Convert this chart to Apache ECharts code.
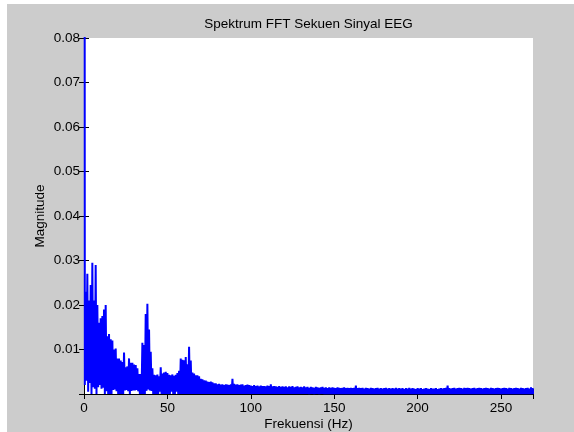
<!DOCTYPE html>
<html>
<head>
<meta charset="utf-8">
<title>Spektrum FFT Sekuen Sinyal EEG</title>
<script src="https://cdn.jsdelivr.net/npm/echarts@6/dist/echarts.min.js"></script>
<style>
  body { margin: 0; padding: 0; background-color: #fff; }
  #main { position: absolute; left: 7px; top: 4px; width: 567px; height: 428px; }
</style>
</head>
<body>
<div id="main"></div>
<script type="text/javascript">
// magnitude, in units of 0.001
// upperMilli[h] = peak bin at h Hz, lowerMilli[h] = trough bin at h + 0.5 Hz
var upperMilli = [
  500, 23, 27, 21, 24.5, 29.5, 21, 29, 20, 16,
  17, 17.5, 19, 20, 13, 13.5, 12.3, 12, 10, 10.2,
  8, 8, 7.5, 7.2, 9.3, 6, 6.2, 8, 7, 7,
  6.6, 6.5, 5.8, 4.5, 4.5, 11.5, 11, 18, 20.3, 14.5,
  9.5, 5.8, 4.3, 4.2, 4.4, 4, 6, 4.6, 4.8, 5,
  4.7, 4.3, 4.2, 4.4, 4.1, 4.3, 4.7, 5.2, 8, 7.7,
  7.6, 8.3, 6.7, 10.6, 7.5, 4.8, 4.6, 4.2, 4.2, 4,
  3.4, 3.3, 3.1, 3, 2.8, 2.7, 2.8, 2.6, 2.4, 2.4,
  2.2, 2.3, 2.1, 2.2, 2.0, 2.2, 2.1, 2.0, 2.2, 3.4,
  2.3, 2.1, 2.2, 2.0, 2.1, 2.2, 1.9, 2.0, 2.1, 2.0,
  1.9, 1.8, 2.0, 1.8, 1.9, 1.7, 1.9, 1.8, 1.8, 1.7,
  1.9, 1.8, 2.2, 1.7, 1.8, 1.7, 1.6, 1.8, 1.6, 1.7,
  1.6, 1.7, 1.5, 1.7, 1.6, 1.8, 1.5, 1.6, 1.7, 1.5,
  1.6, 1.5, 1.7, 1.5, 1.6, 1.4, 1.6, 1.5, 1.4, 1.6,
  1.5, 1.4, 1.5, 1.6, 1.4, 1.5, 1.3, 1.5, 1.4, 1.5,
  1.4, 1.3, 1.5, 1.4, 1.3, 1.4, 1.5, 1.3, 1.4, 1.3,
  1.4, 1.3, 1.4, 1.9, 1.3, 1.4, 1.3, 1.4, 1.2, 1.4,
  1.3, 1.2, 1.4, 1.3, 1.2, 1.3, 1.4, 1.2, 1.3, 1.2,
  1.3, 1.4, 1.2, 1.3, 1.2, 1.3, 1.2, 1.4, 1.2, 1.3,
  1.2, 1.3, 1.1, 1.3, 1.2, 1.4, 1.2, 1.3, 1.2, 1.1,
  1.3, 1.2, 1.3, 1.1, 1.2, 1.3, 1.2, 1.1, 1.3, 1.2,
  1.2, 1.3, 1.1, 1.2, 1.3, 1.2, 1.3, 1.4, 1.9, 1.3,
  1.2, 1.3, 1.4, 1.2, 1.3, 1.4, 1.3, 1.2, 1.4, 1.3,
  1.4, 1.3, 1.2, 1.3, 1.4, 1.2, 1.3, 1.4, 1.3, 1.2,
  1.3, 1.4, 1.3, 1.2, 1.4, 1.3, 1.2, 1.3, 1.4, 1.3,
  1.2, 1.3, 1.4, 1.3, 1.2, 1.4, 1.3, 1.2, 1.3, 1.4,
  1.3, 1.2, 1.4, 1.3, 1.2, 1.3, 1.4, 1.2, 1.5, 1.3
];
// troughs above ~60 Hz go down to zero
var lowerMilli = [
  2.0, 3.0, 0.5, 2.5, 0, 1.5, 1.2, 0, 1.5, 2.0,
  1.2, 1.4, 0, 0.6, 0, 0, 0, 0.9, 1.0, 0.6,
  0, 0, 0, 0, 0.8, 0.9, 0.6, 0, 0.7, 0.8,
  0.8, 0.9, 0.6, 0, 0, 0, 0, 0.7, 1.0, 0.8,
  0.7, 0, 0, 0, 0, 0.5, 0, 0, 0, 0,
  0, 0, 0.5, 0, 0, 0.5, 0, 0, 0, 0
];
var xTickLabels = [0, 50, 100, 150, 200, 250];
var yTickLabels = ['0.01', '0.02', '0.03', '0.04', '0.05', '0.06', '0.07', '0.08'];

var spectrum = [];
for (var h = 0; h < upperMilli.length; h++) {
  spectrum.push([h, upperMilli[h] / 1000]);
  spectrum.push([h + 0.5, (lowerMilli[h] || 0) / 1000]);
}

var fontBase = { fontFamily: 'Liberation Sans, Arial, sans-serif', fontSize: 13.5, color: '#000' };
var xMax = 269.2;

var chart = echarts.init(document.getElementById('main'));
chart.setOption({
  animation: false,
  backgroundColor: '#cccccc',
  title: {
    text: 'Spektrum FFT Sekuen Sinyal EEG',
    left: 301.5,
    top: 13,
    padding: 0,
    textAlign: 'center',
    textStyle: Object.assign({ fontWeight: 'normal' }, fontBase)
  },
  grid: {
    left: 77, right: 41, top: 34, bottom: 38,
    outerBoundsMode: 'none',
    containLabel: false,
    show: true, backgroundColor: '#ffffff', borderWidth: 0
  },
  xAxis: [{
    type: 'value', min: 0, max: xMax, interval: 50,
    name: 'Frekuensi (Hz)', nameLocation: 'middle', nameGap: 23,
    nameMoveOverlap: false,
    nameTextStyle: fontBase,
    axisLine: { lineStyle: { color: '#000', width: 1 } },
    axisTick: { inside: true, length: 5, lineStyle: { color: '#000' } },
    axisLabel: Object.assign({
      margin: 7,
      formatter: function (v) { return xTickLabels.indexOf(v) >= 0 ? String(v) : ''; }
    }, fontBase),
    splitLine: { show: false }
  }, {
    type: 'value', position: 'top', min: 0, max: xMax, interval: 50,
    axisLine: { lineStyle: { color: '#000', width: 1 } },
    axisTick: { inside: true, length: 5, lineStyle: { color: '#000' } },
    axisLabel: { show: false },
    splitLine: { show: false }
  }],
  yAxis: [{
    type: 'value', min: 0, max: 0.08, interval: 0.01,
    name: 'Magnitude', nameLocation: 'middle', nameGap: 37,
    nameMoveOverlap: false,
    nameTextStyle: fontBase,
    axisLine: { lineStyle: { color: '#000', width: 1 } },
    axisTick: { inside: true, length: 5, lineStyle: { color: '#000' } },
    axisLabel: Object.assign({
      margin: 4,
      formatter: function (v) {
        var s = v.toFixed(2);
        return yTickLabels.indexOf(s) >= 0 ? s : '';
      }
    }, fontBase),
    splitLine: { show: false }
  }, {
    type: 'value', position: 'right', min: 0, max: 0.08, interval: 0.01,
    axisLine: { lineStyle: { color: '#000', width: 1 } },
    axisTick: { inside: true, length: 5, lineStyle: { color: '#000' } },
    axisLabel: { show: false },
    splitLine: { show: false }
  }],
  series: [{
    type: 'line',
    xAxisIndex: 0,
    yAxisIndex: 0,
    data: spectrum,
    symbol: 'none',
    clip: true,
    lineStyle: { color: '#0000ff', width: 2, join: 'miter', miterLimit: 2 }
  }]
});
</script>
</body>
</html>
